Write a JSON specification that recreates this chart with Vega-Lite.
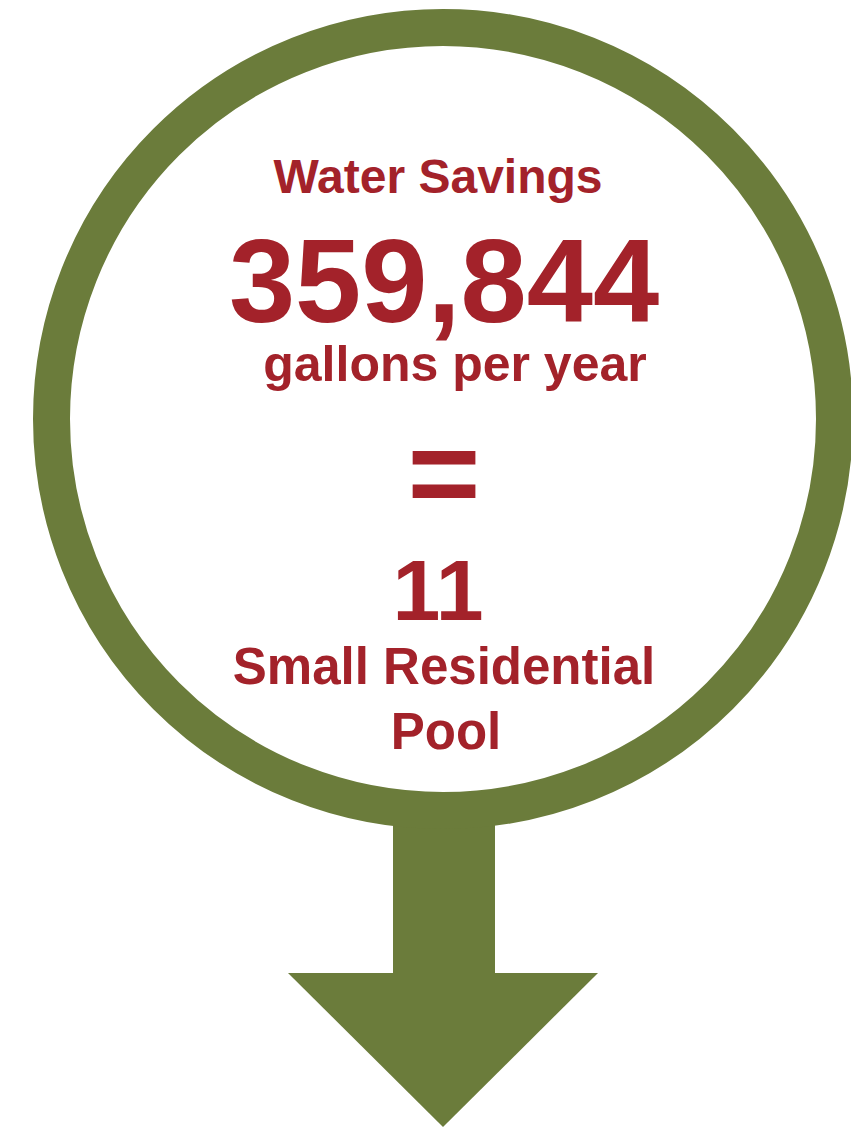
{
  "$schema": "https://vega.github.io/schema/vega-lite/v6.json",
  "width": 851,
  "height": 1131,
  "padding": 0,
  "autosize": {"type": "none"},
  "background": "white",
  "config": {"view": {"stroke": null}},
  "datasets": {
    "ring": [{"cx": 443, "cy": 419}],
    "stem": [{"x1": 393, "x2": 495, "y1": 808, "y2": 974}],
    "head": [
      {"x": 288, "top": 973, "bottom": 973},
      {"x": 443, "top": 973, "bottom": 1127},
      {"x": 598, "top": 973, "bottom": 973}
    ],
    "labels": [
      {"text": "Water Savings", "x": 438, "y": 193, "size": 48},
      {"text": "359,844", "x": 444, "y": 322, "size": 119},
      {"text": "gallons per year", "x": 455, "y": 381, "size": 50},
      {"text": "=", "x": 444, "y": 516, "size": 125},
      {"text": "11", "x": 438, "y": 620, "size": 86},
      {"text": "Small Residential", "x": 444, "y": 684, "size": 51},
      {"text": "Pool", "x": 446, "y": 749, "size": 51}
    ]
  },
  "layer": [
    {
      "data": {"name": "stem"},
      "mark": {"type": "rect", "color": "#6b7c3b"},
      "encoding": {
        "x": {"field": "x1", "type": "quantitative", "scale": {"domain": [0, 851], "zero": false, "nice": false}, "axis": null},
        "x2": {"field": "x2"},
        "y": {"field": "y1", "type": "quantitative", "scale": {"domain": [0, 1131], "reverse": true, "zero": false, "nice": false}, "axis": null},
        "y2": {"field": "y2"}
      }
    },
    {
      "data": {"name": "ring"},
      "mark": {"type": "point", "shape": "circle", "filled": false, "size": 613089, "strokeWidth": 37, "color": "#6b7c3b", "opacity": 1, "strokeOpacity": 1},
      "encoding": {
        "x": {"field": "cx", "type": "quantitative", "scale": {"domain": [0, 851], "zero": false, "nice": false}, "axis": null},
        "y": {"field": "cy", "type": "quantitative", "scale": {"domain": [0, 1131], "reverse": true, "zero": false, "nice": false}, "axis": null}
      }
    },
    {
      "data": {"name": "head"},
      "mark": {"type": "area", "color": "#6b7c3b", "opacity": 1},
      "encoding": {
        "x": {"field": "x", "type": "quantitative", "scale": {"domain": [0, 851], "zero": false, "nice": false}, "axis": null},
        "y": {"field": "top", "type": "quantitative", "scale": {"domain": [0, 1131], "reverse": true, "zero": false, "nice": false}, "axis": null},
        "y2": {"field": "bottom"}
      }
    },
    {
      "data": {"name": "labels"},
      "mark": {"type": "text", "font": "Liberation Sans", "fontWeight": "bold", "color": "#a3222a", "align": "center", "baseline": "alphabetic"},
      "encoding": {
        "x": {"field": "x", "type": "quantitative", "scale": {"domain": [0, 851], "zero": false, "nice": false}, "axis": null},
        "y": {"field": "y", "type": "quantitative", "scale": {"domain": [0, 1131], "reverse": true, "zero": false, "nice": false}, "axis": null},
        "text": {"field": "text", "type": "nominal"},
        "size": {"field": "size", "type": "quantitative", "scale": null, "legend": null}
      }
    }
  ]
}
